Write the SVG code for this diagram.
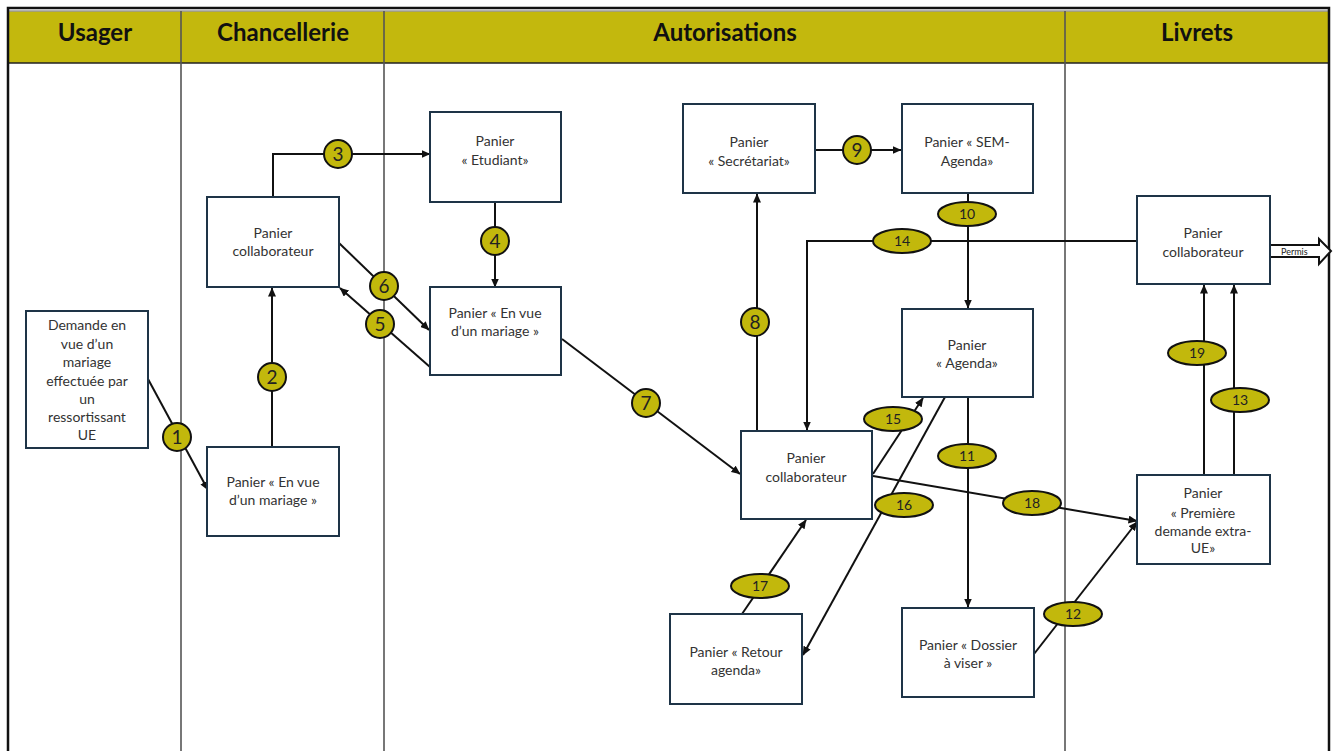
<svg xmlns="http://www.w3.org/2000/svg" width="1334" height="751" viewBox="0 0 1334 751">
<defs>
<style>
.hdr{fill:#C3B80D}
.hd{font-family:Lato,"Liberation Sans",sans-serif;font-weight:bold;font-size:24px;fill:#111;text-anchor:middle}
.lane{stroke:#555;stroke-width:1.6;fill:none}
.box{fill:#fff;stroke:#1E3447;stroke-width:2}
.t{font-family:Lato,"Liberation Sans",sans-serif;font-size:14px;fill:#333;text-anchor:middle}
.c{stroke:#111;stroke-width:2;fill:none}
.ca{stroke:#111;stroke-width:2;fill:none;marker-end:url(#ah)}
.lb{fill:#C2B80C;stroke:#111;stroke-width:2}
.ln{font-family:Lato,"Liberation Sans",sans-serif;font-size:19px;fill:#222;text-anchor:middle}
.le{font-family:Lato,"Liberation Sans",sans-serif;font-size:14px;fill:#222;text-anchor:middle}
</style>
<marker id="ah" markerWidth="9" markerHeight="8" refX="8.5" refY="4" orient="auto" markerUnits="userSpaceOnUse">
<path d="M0,0 L9,4 L0,8 z" fill="#111"/>
</marker>
</defs>
<rect x="0" y="0" width="1334" height="751" fill="#fff"/>
<g id="header">
<rect class="hdr" x="9" y="11" width="1320" height="52"/>
<line x1="9" y1="11" x2="1329" y2="11" stroke="#999" stroke-width="1.5"/>
<line x1="9" y1="63" x2="1329" y2="63" stroke="#222" stroke-width="1.6"/>
<text class="hd" x="95" y="41">Usager</text>
<text class="hd" x="283" y="41">Chancellerie</text>
<text class="hd" x="725" y="41">Autorisations</text>
<text class="hd" x="1197" y="41">Livrets</text>
</g>
<g id="lanes">
<line class="lane" x1="181" y1="11" x2="181" y2="751"/>
<line class="lane" x1="384" y1="11" x2="384" y2="751"/>
<line class="lane" x1="1065" y1="11" x2="1065" y2="751"/>
<rect x="8" y="8" width="1321" height="760" fill="none" stroke="#111" stroke-width="2.5"/>
</g>
<g id="connectors">
<line class="ca" x1="148" y1="379" x2="208" y2="490"/>
<line class="ca" x1="272" y1="447" x2="272" y2="288"/>
<polyline class="ca" points="273,197 273,154 430,154"/>
<line class="ca" x1="495" y1="202" x2="495" y2="287"/>
<line class="ca" x1="339" y1="243" x2="429" y2="330"/>
<line class="ca" x1="430" y1="367" x2="340" y2="288"/>
<line class="ca" x1="562" y1="339" x2="740" y2="474"/>
<line class="ca" x1="757" y1="431" x2="757" y2="194"/>
<line class="ca" x1="815" y1="150" x2="901" y2="150"/>
<line class="ca" x1="968" y1="193" x2="968" y2="308"/>
<polyline class="ca" points="1137,241 807,241 807,430"/>
<line class="ca" x1="968" y1="397" x2="968" y2="607"/>
<line class="ca" x1="1034" y1="654" x2="1137" y2="522"/>
<line class="ca" x1="1234" y1="475" x2="1234" y2="285"/>
<line class="ca" x1="1204" y1="475" x2="1204" y2="285"/>
<line class="ca" x1="873" y1="474" x2="923" y2="398"/>
<line class="ca" x1="945" y1="397" x2="803" y2="655"/>
<line class="ca" x1="742" y1="614" x2="806" y2="520"/>
<line class="ca" x1="873" y1="476" x2="1137" y2="521"/>
<polygon points="1270,245 1319,245 1319,239 1331,251 1319,264 1319,257 1270,257" fill="#fff" stroke="#111" stroke-width="2"/>
<text x="1281" y="255" font-family="Lato,'Liberation Sans',sans-serif" font-size="9" fill="#222">Permis</text>
<circle class="lb" cx="177" cy="437" r="14"/><text class="ln" x="177" y="444">1</text>
<circle class="lb" cx="272" cy="377" r="14"/><text class="ln" x="272" y="384">2</text>
<circle class="lb" cx="338" cy="154" r="14"/><text class="ln" x="338" y="161">3</text>
<circle class="lb" cx="495" cy="241" r="14"/><text class="ln" x="495" y="248">4</text>
<circle class="lb" cx="380" cy="324" r="14"/><text class="ln" x="380" y="331">5</text>
<circle class="lb" cx="384" cy="286" r="14"/><text class="ln" x="384" y="293">6</text>
<circle class="lb" cx="646" cy="403" r="14"/><text class="ln" x="646" y="410">7</text>
<circle class="lb" cx="755" cy="322" r="14"/><text class="ln" x="755" y="329">8</text>
<circle class="lb" cx="857" cy="150" r="14"/><text class="ln" x="857" y="157">9</text>
<ellipse class="lb" cx="967" cy="214" rx="29" ry="12"/><text class="le" x="967" y="219">10</text>
<ellipse class="lb" cx="902" cy="241" rx="29" ry="12"/><text class="le" x="902" y="246">14</text>
<ellipse class="lb" cx="967" cy="456" rx="29" ry="12"/><text class="le" x="967" y="461">11</text>
<ellipse class="lb" cx="1073" cy="614" rx="29" ry="12"/><text class="le" x="1073" y="619">12</text>
<ellipse class="lb" cx="1240" cy="400" rx="29" ry="12"/><text class="le" x="1240" y="405">13</text>
<ellipse class="lb" cx="1197" cy="353" rx="29" ry="12"/><text class="le" x="1197" y="358">19</text>
<ellipse class="lb" cx="893" cy="419" rx="29" ry="12"/><text class="le" x="893" y="424">15</text>
<ellipse class="lb" cx="904" cy="505" rx="29" ry="12"/><text class="le" x="904" y="510">16</text>
<ellipse class="lb" cx="760" cy="586" rx="29" ry="12"/><text class="le" x="760" y="591">17</text>
<ellipse class="lb" cx="1032" cy="503" rx="29" ry="12"/><text class="le" x="1032" y="508">18</text>
</g>
<g id="n-demande">
<rect class="box" x="26" y="311" width="122" height="137"/>
<text class="t" x="87" y="330">Demande en</text>
<text class="t" x="87" y="349">vue d’un</text>
<text class="t" x="87" y="367">mariage</text>
<text class="t" x="87" y="386">effectuée par</text>
<text class="t" x="87" y="404">un</text>
<text class="t" x="87" y="422">ressortissant</text>
<text class="t" x="87" y="440">UE</text>
</g>
<g id="n-chan-collab">
<rect class="box" x="207" y="197" width="132" height="90"/>
<text class="t" x="273" y="238">Panier</text>
<text class="t" x="273" y="256">collaborateur</text>
</g>
<g id="n-chan-envue">
<rect class="box" x="207" y="447" width="132" height="89"/>
<text class="t" x="273" y="487">Panier «  En vue</text>
<text class="t" x="273" y="505">d’un mariage »</text>
</g>
<g id="n-etudiant">
<rect class="box" x="430" y="112" width="131" height="90"/>
<text class="t" x="495" y="146">Panier</text>
<text class="t" x="495" y="165">«  Etudiant»</text>
</g>
<g id="n-aut-envue">
<rect class="box" x="430" y="287" width="131" height="88"/>
<text class="t" x="495" y="318">Panier «  En vue</text>
<text class="t" x="495" y="336">d’un mariage »</text>
</g>
<g id="n-secretariat">
<rect class="box" x="683" y="104" width="132" height="89"/>
<text class="t" x="749" y="147">Panier</text>
<text class="t" x="749" y="166">« Secrétariat»</text>
</g>
<g id="n-sem">
<rect class="box" x="902" y="104" width="131" height="89"/>
<text class="t" x="967" y="147">Panier «  SEM-</text>
<text class="t" x="967" y="166">Agenda»</text>
</g>
<g id="n-agenda">
<rect class="box" x="902" y="309" width="131" height="88"/>
<text class="t" x="967" y="350">Panier</text>
<text class="t" x="967" y="368">«  Agenda»</text>
</g>
<g id="n-aut-collab">
<rect class="box" x="741" y="431" width="131" height="88"/>
<text class="t" x="806" y="463">Panier</text>
<text class="t" x="806" y="482">collaborateur</text>
</g>
<g id="n-retour">
<rect class="box" x="670" y="614" width="132" height="90"/>
<text class="t" x="736" y="657">Panier «  Retour</text>
<text class="t" x="736" y="675">agenda»</text>
</g>
<g id="n-dossier">
<rect class="box" x="902" y="608" width="132" height="89"/>
<text class="t" x="968" y="650">Panier «  Dossier</text>
<text class="t" x="968" y="668">à viser »</text>
</g>
<g id="n-liv-collab">
<rect class="box" x="1137" y="196" width="133" height="88"/>
<text class="t" x="1203" y="238">Panier</text>
<text class="t" x="1203" y="257">collaborateur</text>
</g>
<g id="n-premiere">
<rect class="box" x="1137" y="475" width="133" height="89"/>
<text class="t" x="1203" y="498">Panier</text>
<text class="t" x="1203" y="518">«  Première</text>
<text class="t" x="1203" y="536">demande extra-</text>
<text class="t" x="1203" y="553">UE»</text>
</g>
</svg>
